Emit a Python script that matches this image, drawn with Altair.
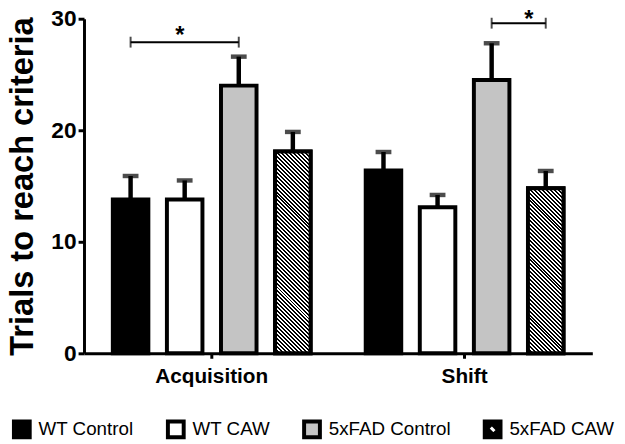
import altair as alt
import pandas as pd

# ---------------- data ----------------
phases = ["Acquisition", "Shift"]
groups = ["WT Control", "WT CAW", "5xFAD Control", "5xFAD CAW"]
acq_mean = [13.8, 13.8, 24.0, 18.1]
acq_sem = [2.1, 1.7, 2.6, 1.75]
shift_mean = [16.4, 13.1, 24.5, 14.8]
shift_sem = [1.65, 1.1, 3.3, 1.55]
fill_colors = ["#000000", "#ffffff", "#c4c4c4", "#000000"]
y_ticks = [0, 10, 20, 30]
y_title = "Trials to reach criteria"

# significance brackets
sig_phase = ["Acquisition", "Shift"]
sig_from = ["WT Control", "5xFAD Control"]
sig_to = ["5xFAD Control", "5xFAD CAW"]
sig_y = [27.9, 29.6]
sig_label = ["*", "*"]

# ---------------- geometry / style ----------------
W, H = 515, 339
Y_MAX = 30
X_PAD_IN, X_PAD_OUT = 0.1413, 0.0757
O_PAD_IN, O_PAD_OUT = 0.343, 0.179
FONT = "Liberation Sans"
SYM_SIZE, SYM_STROKE = 256, 4

rows = []
for ph, means, sems in [("Acquisition", acq_mean, acq_sem), ("Shift", shift_mean, shift_sem)]:
    for g, m, s in zip(groups, means, sems):
        rows.append({"phase": ph, "group": g, "mean": m, "upper": m + s, "mid": m / 2})
df = pd.DataFrame(rows)

br_rows = []
for i, (ph, a, b, yv) in enumerate(zip(sig_phase, sig_from, sig_to, sig_y)):
    br_rows.append({"id": i, "phase": ph, "group": a, "y": yv})
    br_rows.append({"id": i, "phase": ph, "group": b, "y": yv})
br = pd.DataFrame(br_rows)

x_enc = alt.X("phase:N",
              scale=alt.Scale(domain=phases, paddingInner=X_PAD_IN, paddingOuter=X_PAD_OUT),
              axis=alt.Axis(title=None, labelAngle=0, labelFont=FONT, labelFontSize=21,
                            labelFontWeight="bold", labelColor="black", labelPadding=8,
                            domainColor="black", domainWidth=3, tickColor="black",
                            tickWidth=3, tickSize=5))
xo_enc = alt.XOffset("group:N",
                     scale=alt.Scale(domain=groups, paddingInner=O_PAD_IN, paddingOuter=O_PAD_OUT))
y_axis = alt.Axis(values=y_ticks, title=y_title, grid=False, labelFont=FONT, labelFontSize=23,
                  labelFontWeight="bold", labelColor="black", labelPadding=2,
                  domainColor="black", domainWidth=3, tickColor="black", tickWidth=3,
                  tickSize=6, titleFont=FONT, titleFontSize=33, titleFontWeight="bold",
                  titleColor="black", titlePadding=12)
y_scale = alt.Scale(domain=[0, Y_MAX], nice=False)

legend = alt.Legend(title=None, orient="none", legendX=-73, legendY=406, direction="horizontal",
                    labelFont=FONT, labelFontSize=19, labelColor="black", labelOffset=7,
                    symbolSize=SYM_SIZE, symbolStrokeWidth=SYM_STROKE, symbolStrokeColor="black",
                    columnPadding=26, padding=0)

# square with a short diagonal slot (hole, opposite winding) for the hatched entry
hatch_path = ("M-1,-1H1V1H-1Z "
              "M-0.71,-0.09L0.09,0.71L0.71,0.09L-0.09,-0.71Z")
shape_range = ["square", "square", "square", hatch_path]

fill_scale = alt.Scale(domain=groups, range=fill_colors)

# hidden points (drawn behind the bars) that carry the legend
pts = alt.Chart(df).mark_point(filled=True, opacity=1).encode(
    x=x_enc, xOffset=xo_enc,
    y=alt.Y("mid:Q", scale=y_scale, axis=y_axis),
    fill=alt.Fill("group:N", scale=fill_scale, legend=legend),
    shape=alt.Shape("group:N", scale=alt.Scale(domain=groups, range=shape_range), legend=legend),
    stroke=alt.Stroke("group:N", scale=alt.Scale(domain=groups, range=["black"] * 4), legend=legend),
    size=alt.Size("group:O", scale=alt.Scale(domain=groups, range=[SYM_SIZE] * 4), legend=legend),
    strokeWidth=alt.StrokeWidth("group:O", scale=alt.Scale(domain=groups, range=[SYM_STROKE] * 4),
                                legend=legend))

bars = alt.Chart(df).mark_bar(stroke="black", strokeWidth=4).encode(
    x=x_enc, xOffset=xo_enc,
    y=alt.Y("mean:Q", scale=y_scale, axis=y_axis),
    fill=alt.Fill("group:N", scale=fill_scale, legend=None))

# hatched overlay bars (one per phase, gradient stripes at 45 degrees)
xband = W / (len(phases) - X_PAD_IN + 2 * X_PAD_OUT) * (1 - X_PAD_IN)
ostep = xband / (len(groups) - O_PAD_IN + 2 * O_PAD_OUT)
bw = ostep * (1 - O_PAD_IN)
hatch_layers = []
for ph, means in [("Acquisition", acq_mean), ("Shift", shift_mean)]:
    h = means[3] * H / Y_MAX
    w = bw
    a = (w + h) / (w * w + h * h)
    n = max(1, round((w + h) / 4.0))
    stops = []
    for k in range(n):
        stops += [alt.GradientStop(offset=k / n, color="black"),
                  alt.GradientStop(offset=(k + 0.5) / n, color="black"),
                  alt.GradientStop(offset=(k + 0.5) / n, color="white"),
                  alt.GradientStop(offset=(k + 1) / n, color="white")]
    grad = alt.LinearGradient(gradient="linear", stops=stops, x1=0, y1=1, x2=a * w, y2=1 - a * h)
    hatch_layers.append(
        alt.Chart(df).transform_filter(
            (alt.datum.phase == ph) & (alt.datum.group == groups[3])
        ).mark_bar(stroke="black", strokeWidth=4, fill=grad).encode(
            x=x_enc, xOffset=xo_enc, y=alt.Y("mean:Q", scale=y_scale, axis=y_axis)))

err = alt.Chart(df).mark_rule(color="black", strokeWidth=4.5).encode(
    x=x_enc, xOffset=xo_enc,
    y=alt.Y("mean:Q", scale=y_scale, axis=y_axis), y2="upper:Q")
caps = alt.Chart(df).mark_tick(color="black", orient="horizontal", size=16, thickness=4.5).encode(
    x=x_enc, xOffset=xo_enc, y=alt.Y("upper:Q", scale=y_scale, axis=y_axis))

br_line = alt.Chart(br).mark_line(color="black", strokeWidth=2).encode(
    x=x_enc, xOffset=xo_enc, y=alt.Y("y:Q", scale=y_scale, axis=y_axis), detail="id:N")
br_ends = alt.Chart(br).mark_tick(color="black", orient="vertical", size=11, thickness=2).encode(
    x=x_enc, xOffset=xo_enc, y=alt.Y("y:Q", scale=y_scale, axis=y_axis))

star_df = pd.DataFrame({"phase": sig_phase, "group": ["WT CAW", "5xFAD CAW"],
                        "y": sig_y, "label": sig_label})
star1 = alt.Chart(star_df).transform_filter(alt.datum.phase == "Acquisition").mark_text(
    font=FONT, fontSize=24, fontWeight="bold", color="black", baseline="alphabetic", dx=-5, dy=1).encode(
    x=x_enc, xOffset=xo_enc, y=alt.Y("y:Q", scale=y_scale, axis=y_axis), text="label:N")
star2 = alt.Chart(star_df).transform_filter(alt.datum.phase == "Shift").mark_text(
    font=FONT, fontSize=24, fontWeight="bold", color="black", baseline="alphabetic", dx=-17, dy=4).encode(
    x=x_enc, xOffset=xo_enc, y=alt.Y("y:Q", scale=y_scale, axis=y_axis), text="label:N")

chart = alt.layer(pts, bars, *hatch_layers, err, caps, br_line, br_ends, star1, star2).properties(
    width=W, height=H,
    autosize=alt.AutoSizeParams(type="none"),
    padding={"left": 77, "top": 8, "right": 25, "bottom": 89},
    background="white",
).configure_view(stroke=None).configure_legend(
    symbolSize=SYM_SIZE, symbolStrokeWidth=SYM_STROKE, symbolStrokeColor="black")

chart.save("out.html", embed_options={"renderer": "svg", "actions": False})
